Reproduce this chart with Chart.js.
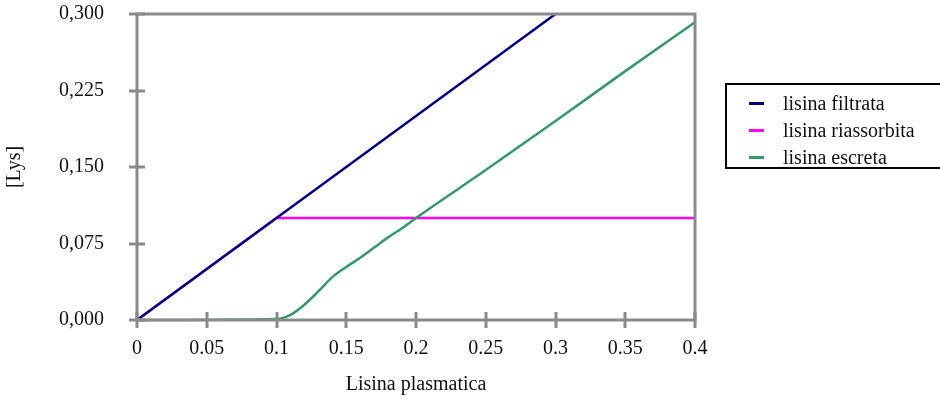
<!DOCTYPE html>
<html>
<head>
<meta charset="utf-8">
<script src="https://cdn.jsdelivr.net/npm/chart.js@4/dist/chart.umd.min.js"></script>
<style>
  html,body{margin:0;padding:0;background:#fff;}
  #wrap{position:relative;width:940px;height:403px;overflow:hidden;}
  #c{position:absolute;left:0;top:0;}
  #legend{position:absolute;left:725px;top:83px;width:218px;height:86px;border:2px solid #000;box-sizing:border-box;
    font-family:"Liberation Serif","DejaVu Serif",serif;font-size:20px;color:#111;}
  .item{position:absolute;left:0;height:24px;line-height:24px;}
  .sw{position:absolute;left:22px;top:11px;width:15px;height:3px;}
  .lbl{position:absolute;left:56px;top:0;white-space:nowrap;}
</style>
</head>
<body>
<div id="wrap">
  <canvas id="c" width="940" height="403"></canvas>
  <div id="legend"></div>
</div>
<script>
// ---- data ----
const seriesNames = ['lisina filtrata', 'lisina riassorbita', 'lisina escreta'];
const seriesColors = ['#000080', '#ff00ff', '#339966'];

const filtrataX = [0, 0.3];
const filtrataY = [0, 0.3];

const riassorbitaX = [0, 0.1, 0.4];
const riassorbitaY = [0, 0.1, 0.1];

const escretaX = [0, 0.1, 0.11, 0.12, 0.13, 0.14, 0.15, 0.16, 0.17, 0.18, 0.19, 0.2, 0.25, 0.3, 0.35, 0.4];
const escretaY = [0, 0.001, 0.005, 0.015, 0.028, 0.042, 0.052, 0.061, 0.071, 0.081, 0.090, 0.100, 0.147, 0.195, 0.244, 0.292];

const xTickValues = [0, 0.05, 0.1, 0.15, 0.2, 0.25, 0.3, 0.35, 0.4];
const xTickLabels = ['0', '0.05', '0.1', '0.15', '0.2', '0.25', '0.3', '0.35', '0.4'];
const yTickValues = [0, 0.075, 0.15, 0.225, 0.3];
const yTickLabels = ['0,000', '0,075', '0,150', '0,225', '0,300'];

const xTitle = 'Lisina plasmatica';
const yTitle = '[Lys]';

// ---- build ----
function pts(xs, ys){ return xs.map((x,i)=>({x:x, y:ys[i]})); }
const seriesData = [pts(filtrataX, filtrataY), pts(riassorbitaX, riassorbitaY), pts(escretaX, escretaY)];
const drawOrders = [0, 2, 1]; // lower = drawn on top

const FONT = '"Liberation Serif","DejaVu Serif",serif';
const AXIS_COLOR = '#8a8a8a';

const framePlugin = {
  id: 'frame',
  afterDatasetsDraw(chart){
    const ctx = chart.ctx, a = chart.chartArea;
    const xs = chart.scales.x, ys = chart.scales.y;
    ctx.save();
    ctx.strokeStyle = AXIS_COLOR;
    ctx.lineWidth = 3;
    ctx.strokeRect(a.left, a.top, a.right - a.left, a.bottom - a.top);
    ctx.beginPath();
    xTickValues.forEach(v=>{
      const p = Math.round(xs.getPixelForValue(v));
      ctx.moveTo(p, a.bottom - 8); ctx.lineTo(p, a.bottom + 8);
    });
    yTickValues.forEach(v=>{
      const p = Math.round(ys.getPixelForValue(v));
      ctx.moveTo(a.left - 8, p); ctx.lineTo(a.left + 8, p);
    });
    ctx.stroke();
    ctx.restore();
  }
};

new Chart(document.getElementById('c'), {
  type: 'scatter',
  data: {
    datasets: seriesNames.map((n,i)=>({
      label: n,
      data: seriesData[i],
      showLine: true,
      borderColor: seriesColors[i],
      backgroundColor: seriesColors[i],
      borderWidth: 2.5,
      pointRadius: 0,
      tension: i === 2 ? 0.3 : 0,
      cubicInterpolationMode: i === 2 ? 'monotone' : 'default',
      order: drawOrders[i],
      clip: false
    }))
  },
  options: {
    responsive: false,
    animation: false,
    devicePixelRatio: 1,
    layout: { padding: { left: 0, right: 245, top: 14, bottom: 0 } },
    plugins: { legend: { display: false }, tooltip: { enabled: false } },
    scales: {
      x: {
        type: 'linear', min: 0, max: 0.4,
        afterBuildTicks(s){ s.ticks = xTickValues.map(v=>({value:v})); },
        afterFit(s){ s.height = 83; s.paddingLeft = 0; s.paddingRight = 0; },
        ticks: {
          padding: 17, color: '#111', maxRotation: 0, autoSkip: false,
          font: { family: FONT, size: 20 },
          callback: (v)=>{ const i = xTickValues.findIndex(t=>Math.abs(t-v)<1e-9); return i>=0 ? xTickLabels[i] : ''; }
        },
        grid: { display: false, drawTicks: false, tickLength: 0 },
        border: { display: false },
        title: { display: true, text: xTitle, color: '#111', font: { family: FONT, size: 20 }, padding: { top: 0, bottom: 6 } }
      },
      y: {
        type: 'linear', min: 0, max: 0.3,
        afterBuildTicks(s){ s.ticks = yTickValues.map(v=>({value:v})); },
        afterFit(s){ s.width = 137; s.paddingTop = 0; s.paddingBottom = 0; },
        ticks: {
          padding: 33, color: '#111', autoSkip: false,
          font: { family: FONT, size: 20 },
          callback: (v)=>{ const i = yTickValues.findIndex(t=>Math.abs(t-v)<1e-9); return i>=0 ? yTickLabels[i] : ''; }
        },
        grid: { display: false, drawTicks: false, tickLength: 0 },
        border: { display: false },
        title: { display: true, text: yTitle, color: '#111', font: { family: FONT, size: 20 }, padding: { top: 3, bottom: 0 } }
      }
    }
  },
  plugins: [framePlugin]
});

// ---- HTML legend ----
const lg = document.getElementById('legend');
seriesNames.forEach((n,i)=>{
  const d = document.createElement('div');
  d.className = 'item';
  d.style.top = (6 + i*27) + 'px';
  d.innerHTML = '<span class="sw" style="background:'+seriesColors[i]+'"></span><span class="lbl"></span>';
  d.querySelector('.lbl').textContent = n;
  lg.appendChild(d);
});
</script>
</body>
</html>
